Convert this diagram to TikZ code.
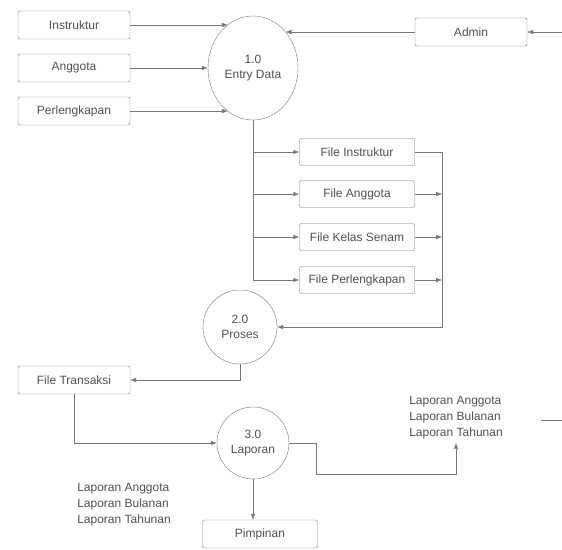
\documentclass[tikz,border=0pt]{standalone}
\usepackage{fontspec}
\setmainfont{Liberation Sans}
\usetikzlibrary{arrows.meta,shapes.geometric}
\definecolor{linegray}{RGB}{120,120,120}
\definecolor{textgray}{RGB}{80,80,80}
\tikzset{
  box/.style = {draw=linegray, rounded corners=2pt, minimum width=112pt, minimum height=28pt, inner sep=0pt, text=textgray},
  filebox/.style = {box, minimum width=115pt, minimum height=27pt},
  proc/.style = {draw=linegray, circle, inner sep=0pt, align=center, text=textgray},
  arr/.style = {draw=linegray, -{Latex[length=6pt,width=4.5pt]}},
  flow/.style = {draw=linegray},
  lbl/.style = {align=left, text=textgray, font=\fontsize{12}{16}\selectfont}
}
\begin{document}
\begin{tikzpicture}[x=1pt, y=-1pt, font=\fontsize{12}{15}\selectfont]
    \useasboundingbox (0,0) rectangle (562,549);

    % sumber data
    \node[box] (ins) at (74,25) {Instruktur};
    \node[box] (ang) at (74,68) {Anggota};
    \node[box] (per) at (74,111) {Perlengkapan};
    \node[box] (adm) at (471,32) {Admin};
    \coordinate (adin) at (562,32);

    \node[proc, ellipse, minimum width=90pt, minimum height=104pt] (ent) at (253,68) {1.0\\Entry Data};

    \draw[arr] (ins.east) -- (ins.east -| ent.120);
    \draw[arr] (ang.east) -- (ent.west);
    \draw[arr] (per.east) -- (per.east -| ent.240);
    \draw[arr] (adm.west) -- (adm.west -| ent.48);
    \draw[arr] (adin) -- (adm.east);

    % file
    \node[filebox] (fins) at (357,152) {File Instruktur};
    \node[filebox] (fang) at (357,194) {File Anggota};
    \node[filebox] (fkls) at (357,237) {File Kelas Senam};
    \node[filebox] (fper) at (357,280) {File Perlengkapan};

    \foreach \f in {fins,fang,fkls,fper}
      \draw[arr] (ent.south) |- (\f.west);

    \coordinate (bus) at (442,152);
    \node[proc, minimum size=74pt] (prs) at (240,327) {2.0\\Proses};

    \draw[flow] (fins.east) -- (bus);
    \foreach \f in {fang,fkls,fper}
      \draw[arr] (\f.east) -- (\f.east -| bus);
    \draw[arr] (bus) |- (prs.east);

    % transaksi
    \node[box] (ftr) at (74,380) {File Transaksi};
    \draw[arr] (prs.south) |- (ftr.east);

    \node[proc, minimum size=72pt] (lap) at (253,443) {3.0\\Laporan};
    \draw[arr] (ftr.south) |- (lap.west);

    % laporan
    \node[lbl] (lapout) at (456,418) {Laporan Anggota\\Laporan Bulanan\\Laporan Tahunan};
    \coordinate (turn) at (316,474);
    \draw[arr] (lap.east) -| (turn) -| (lapout.south);

    \coordinate (s1) at (541,420);
    \coordinate (s2) at (562,420);
    \draw[flow] (s1) -- (s2);

    \node[lbl] (lapin) at (124,505) {Laporan Anggota\\Laporan Bulanan\\Laporan Tahunan};
    \node[box, minimum width=115pt] (pim) at (260,534) {Pimpinan};
    \draw[arr] (lap.south) -- (lap.south |- pim.north);

  \end{tikzpicture}
\end{document}
